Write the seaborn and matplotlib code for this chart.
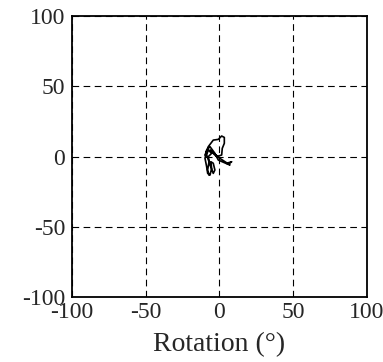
import matplotlib
matplotlib.use("Agg")
import matplotlib.pyplot as plt
import seaborn as sns
import pandas as pd

rot_x = [-9.8, -7.6, -4.2, -0.8, 1.5, 3.3, 3.3, 1.9, 1.5, -1.9, -5.3, -6.4, 0.3, 7.1,
         4.9, 8.3, 6.0, -0.8, -3.1, -6.4, -8.7, -9.8, -8.7, -8.0, -6.4, -5.3, -5.8,
         -4.2, -3.1, -4.2, -6.4, -7.6, -5.3, -7.6, -8.7, -7.1, -8.0, -7.1]
rot_y = [1.1, 7.0, 11.7, 12.2, 14.6, 13.6, 9.4, 5.8, 1.1, -0.1, 3.4, 4.6, -1.3, -6.0,
         -4.8, -3.7, -5.6, -2.5, 2.3, 7.0, 4.6, -1.3, -7.2, -12.0, -13.2, -8.4, -3.7,
         -4.8, -9.6, -12.0, -6.0, -0.1, 2.3, 4.6, 1.1, -3.7, -9.6, -13.2]
ticks = [-100, -50, 0, 50, 100]

sns.set_style("white")
plt.rcParams['font.family'] = ['Liberation Serif', 'DejaVu Serif']

fig = plt.figure(figsize=(3.83, 3.62), dpi=100)
ax = fig.add_axes([0.188, 0.1796, 0.770, 0.776])

df = pd.DataFrame({"x": rot_x, "y": rot_y})
sns.lineplot(data=df, x="x", y="y", sort=False, estimator=None, color="black", lw=1.2, ax=ax)

ax.set_xlim(-100, 100)
ax.set_ylim(-100, 100)
ax.set_xticks(ticks)
ax.set_yticks(ticks)
ax.set_xticklabels([str(t) for t in ticks], fontsize=17)
ax.set_yticklabels([str(t) for t in ticks], fontsize=17)
ax.tick_params(axis='x', length=0, pad=3.5)
ax.tick_params(axis='y', length=0, pad=5)
ax.grid(True, color="black", linestyle=(0, (6, 4)), linewidth=0.8)
for s in ax.spines.values():
    s.set_color("black")
    s.set_linewidth(1.3)
ax.set_xlabel("Rotation (°)", fontsize=20, labelpad=7)
ax.set_ylabel("")

fig.savefig("out.png", dpi=100)
